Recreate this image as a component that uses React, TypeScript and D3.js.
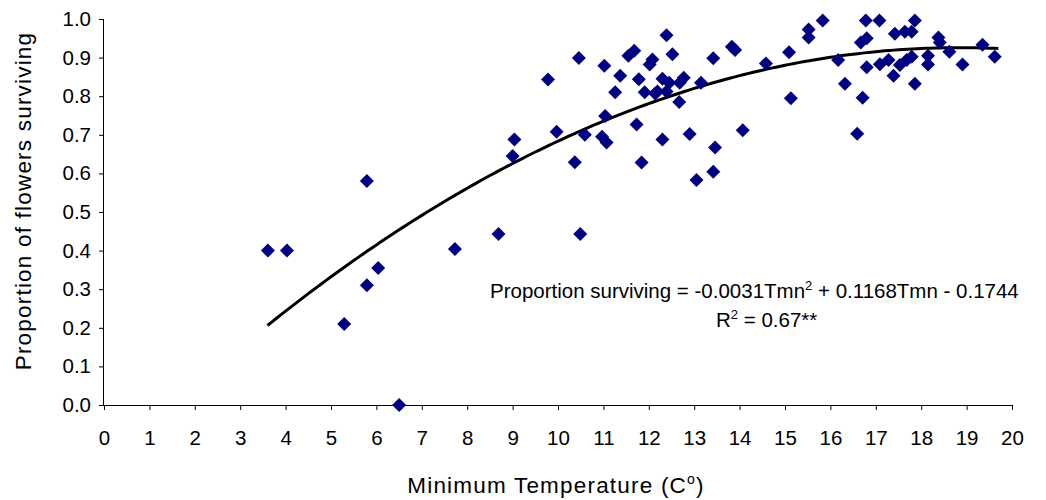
import React, { useEffect, useRef } from "react";
import * as d3 from "d3";

// Observed data (minimum temperature, °C) and proportion of flowers surviving
const tmin = [
  3.61, 4.03, 5.29, 5.79, 5.79, 6.04, 6.5, 7.73, 8.69, 9.0, 9.04, 9.78, 9.97, 10.37, 10.46,
  10.49, 10.59, 10.97, 11.07, 11.02, 11.04, 11.26, 11.37, 11.55, 11.68, 11.73, 11.78, 11.84,
  11.91, 12.02, 12.08, 12.14, 12.19, 12.3, 12.3, 12.39, 12.39, 12.45, 12.52, 12.67, 12.68,
  12.77, 12.9, 13.05, 13.15, 13.42, 13.42, 13.46, 13.83, 13.9, 14.07, 14.58, 15.09, 15.13,
  15.52, 15.52, 15.83, 16.17, 16.32, 16.59, 16.67, 16.71, 16.8, 16.8, 16.78, 17.08, 17.09,
  17.28, 17.39, 17.42, 17.53, 17.64, 17.68, 17.79, 17.79, 17.86, 17.86, 18.15, 18.15, 18.38,
  18.41, 18.62, 18.91, 19.35, 19.62,
];
const surviving = [
  0.4, 0.4, 0.21, 0.31, 0.58, 0.355, 0.0, 0.404, 0.443, 0.645, 0.688, 0.843, 0.708, 0.629,
  0.899, 0.443, 0.7, 0.695, 0.68, 0.879, 0.749, 0.81, 0.853, 0.905, 0.918, 0.727, 0.844,
  0.628, 0.81, 0.882, 0.895, 0.807, 0.812, 0.688, 0.845, 0.958, 0.812, 0.835, 0.909, 0.785,
  0.835, 0.848, 0.702, 0.583, 0.835, 0.898, 0.604, 0.667, 0.928, 0.92, 0.712, 0.885, 0.914,
  0.795, 0.973, 0.952, 0.996, 0.894, 0.832, 0.703, 0.939, 0.796, 0.95, 0.875, 0.996, 0.996,
  0.883, 0.894, 0.853, 0.962, 0.881, 0.967, 0.894, 0.967, 0.902, 0.996, 0.832, 0.905, 0.882,
  0.952, 0.939, 0.915, 0.882, 0.933, 0.902,
];

// Trendline as printed on the chart: y = a*T^2 + b*T + c
const trendCoef = [-0.0031, 0.1168, -0.1744];
const trendRange = [3.6, 19.7];

const xTicks = d3.range(0, 21, 1);
const yTicks = d3.range(0, 1.01, 0.1);

const FONT = "'Liberation Sans', Arial, sans-serif";

export default function App() {
  const ref = useRef<SVGSVGElement | null>(null);

  useEffect(() => {
    document.body.style.margin = "0";
    const svg = d3.select(ref.current);
    svg.selectAll("*").remove();

    const x = d3.scaleLinear().domain([0, 20]).range([104, 1012]);
    const y = d3.scaleLinear().domain([0, 1]).range([405, 19]);

    // Y axis
    const gy = svg
      .append("g")
      .attr("transform", `translate(${x(0)},0)`)
      .call(
        d3
          .axisLeft(y)
          .tickValues(yTicks)
          .tickSize(5)
          .tickPadding(8)
          .tickFormat(d3.format(".1f") as any)
      );
    gy.select(".domain").attr("stroke", "#000").attr("d", `M-0.5,${y(1)}V${y(0)}`);
    gy.selectAll(".tick line").attr("stroke", "#000");
    gy.selectAll(".tick text")
      .attr("font-family", FONT)
      .attr("font-size", 20.5)
      .attr("fill", "#000");

    // X axis
    const gx = svg
      .append("g")
      .attr("transform", `translate(0,${y(0)})`)
      .call(d3.axisBottom(x).tickValues(xTicks).tickSize(5).tickPadding(20).tickFormat(d3.format("d") as any));
    gx.select(".domain").attr("stroke", "#000").attr("d", `M${x(0)},0.5H${x(20)}`);
    gx.selectAll(".tick line").attr("stroke", "#000");
    gx.selectAll(".tick text")
      .attr("font-family", FONT)
      .attr("font-size", 20.5)
      .attr("fill", "#000");

    // Trendline
    const [a, b, c] = trendCoef;
    const tx = d3.range(trendRange[0], trendRange[1] + 0.0001, 0.1);
    const line = d3
      .line<number>()
      .x((t) => x(t))
      .y((t) => y(a * t * t + b * t + c));
    svg
      .append("path")
      .datum(tx)
      .attr("d", line)
      .attr("fill", "none")
      .attr("stroke", "#000")
      .attr("stroke-width", 3)
      .attr("stroke-linejoin", "round");

    // Points (square diamond markers)
    const r = 7;
    svg
      .append("g")
      .selectAll("path")
      .data(tmin.map((t, i) => [t, surviving[i]]))
      .join("path")
      .attr("d", `M0,${-r}L${r},0L0,${r}L${-r},0Z`)
      .attr("transform", (d) => `translate(${x(d[0])},${y(d[1])})`)
      .attr("fill", "#000080");

    // Equation text
    const eq = svg
      .append("text")
      .attr("x", 490)
      .attr("y", 298)
      .attr("font-family", FONT)
      .attr("font-size", 20.5)
      .attr("fill", "#000");
    eq.append("tspan").text("Proportion surviving = -0.0031Tmn");
    eq.append("tspan").attr("font-size", 13).attr("dy", -8).text("2");
    eq.append("tspan").attr("dy", 8).text(" + 0.1168Tmn - 0.1744");

    const r2 = svg
      .append("text")
      .attr("x", 716)
      .attr("y", 327)
      .attr("font-family", FONT)
      .attr("font-size", 20.5)
      .attr("fill", "#000");
    r2.append("tspan").text("R");
    r2.append("tspan").attr("font-size", 13).attr("dy", -8).text("2");
    r2.append("tspan").attr("dy", 8).text(" = 0.67**");

    // Axis titles
    const xt = svg
      .append("text")
      .attr("x", 556)
      .attr("y", 493)
      .attr("text-anchor", "middle")
      .attr("font-family", FONT)
      .attr("font-size", 22.5)
      .attr("letter-spacing", 1.2)
      .attr("fill", "#000");
    xt.append("tspan").text("Minimum Temperature (C");
    xt.append("tspan").attr("font-size", 14).attr("dy", -9).text("o");
    xt.append("tspan").attr("dy", 9).text(")");

    svg
      .append("text")
      .attr("transform", `translate(31,201) rotate(-90)`)
      .attr("text-anchor", "middle")
      .attr("font-family", FONT)
      .attr("font-size", 22.5)
      .attr("letter-spacing", 1.2)
      .attr("fill", "#000")
      .text("Proportion of flowers surviving");
  }, []);

  return (
    <div style={{ position: "absolute", left: 0, top: 0 }}>
      <svg ref={ref} width={1046} height={500} style={{ display: "block", background: "#fff" }} />
    </div>
  );
}
